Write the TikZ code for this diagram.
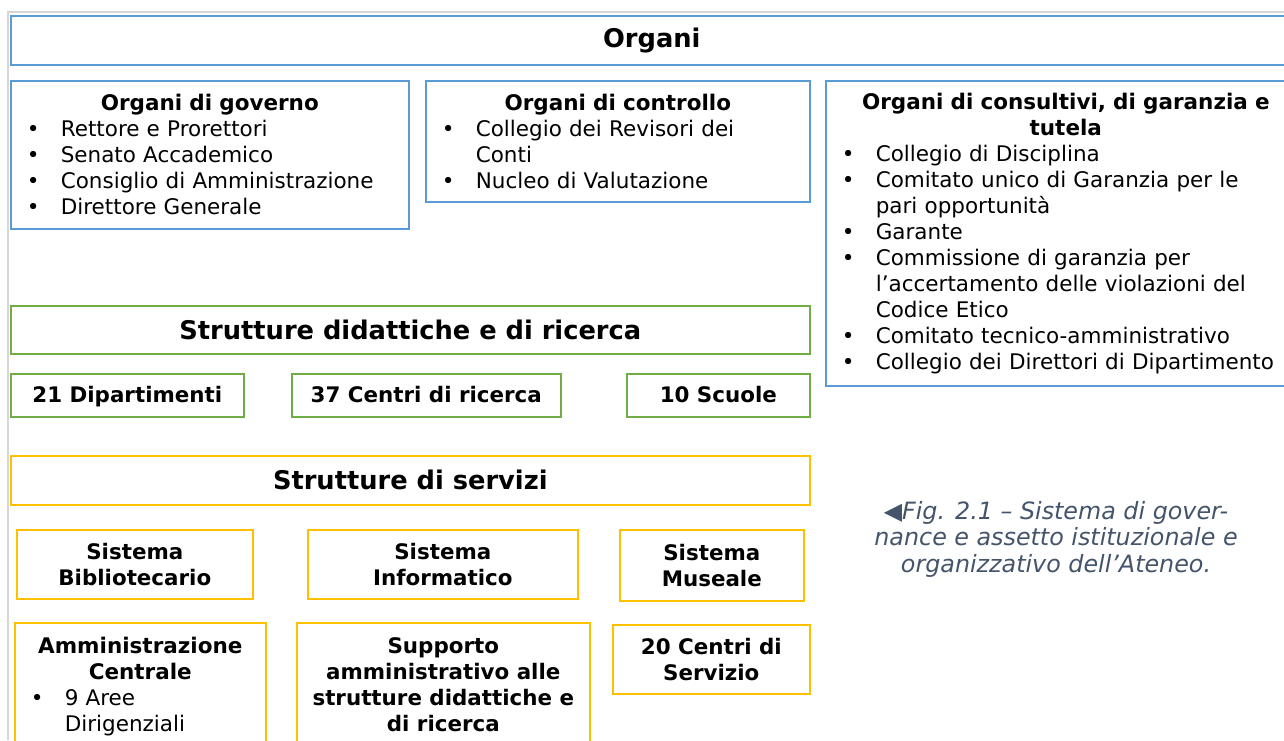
\documentclass[tikz,border=0pt]{standalone}
\usepackage{fontspec}
\setmainfont{DejaVu Sans}
\usepackage{xcolor}
\usepackage{tikz}

\definecolor{orgblue}{HTML}{5B9BD5}
\definecolor{strgreen}{HTML}{70AD47}
\definecolor{srvyellow}{HTML}{FFC000}
\definecolor{capgray}{HTML}{44546A}
\definecolor{pagegray}{HTML}{D6D6D6}

\newcommand{\hd}[1]{{\noindent\centering\bfseries #1\par}}
\newcommand{\itm}[1]{{\noindent\hangindent=45pt\hangafter=1\makebox[45pt][l]{\hspace{11pt}\textbullet}#1\par}}

\begin{document}
\begin{tikzpicture}[x=1pt,y=-1pt,
  box/.style={draw=#1,line width=1.6pt,rectangle,anchor=north west,inner xsep=5pt,inner ysep=0pt},
  listbox/.style={box=#1,align=left,font=\fontsize{21.5}{26}\selectfont},
  boldbox/.style={box=#1,align=center,font=\fontsize{21.4}{26}\selectfont\bfseries},
  headbox/.style={box=#1,align=center,font=\fontsize{25.7}{26}\selectfont\bfseries}]
\useasboundingbox (0,0) rectangle (1284,740);
\draw[pagegray,line width=2pt] (8,740) -- (8,12) -- (1284,12);

% Organi
\node[headbox=orgblue,minimum width=1282,minimum height=49] (organi) at (10,15) {Organi};
\node[listbox=orgblue,minimum width=398,minimum height=148,text width=388] (gov) at (10,80) {%
\hd{Organi di governo}
\itm{Rettore e Prorettori}
\itm{Senato Accademico}
\itm{Consiglio di Amministrazione}
\itm{Direttore Generale}};
\node[listbox=orgblue,minimum width=384,minimum height=121,text width=374] (contr) at (425,80) {%
\hd{Organi di controllo}
\itm{Collegio dei Revisori dei\newline Conti}
\itm{Nucleo di Valutazione}};
\node[listbox=orgblue,minimum width=480,minimum height=305,text width=470] (cons) at (825,80) {%
\hd{Organi di consultivi, di garanzia e\\tutela}
\itm{Collegio di Disciplina}
\itm{Comitato unico di Garanzia per le\newline pari opportunità}
\itm{Garante}
\itm{Commissione di garanzia per\newline l’accertamento delle violazioni del\newline Codice Etico}
\itm{Comitato tecnico-amministrativo}
\itm{Collegio dei Direttori di Dipartimento}};

% Strutture didattiche e di ricerca
\node[headbox=strgreen,minimum width=799,minimum height=48] (did) at (10,305) {Strutture didattiche e di ricerca};
\foreach \nm/\x/\w/\txt in {dip/10/233/21 Dipartimenti,cen/291/269/37 Centri di ricerca,scu/626/183/10 Scuole} {
  \node[boldbox=strgreen,minimum width=\w,minimum height=43,text height=18pt,text depth=3pt] (\nm) at (\x,373) {\txt};
}

% Strutture di servizi
\node[headbox=srvyellow,minimum width=799,minimum height=49] (serv) at (10,455) {Strutture di servizi};
\node[boldbox=srvyellow,minimum width=236,minimum height=69] (bib) at (16,529) {Sistema\\Bibliotecario};
\node[boldbox=srvyellow,minimum width=270,minimum height=69] (inf) at (307,529) {Sistema\\Informatico};
\node[boldbox=srvyellow,minimum width=184,minimum height=71] (mus) at (619,529) {Sistema\\Museale};
\node[listbox=srvyellow,minimum width=251,minimum height=128,text width=241] (amm) at (14,622) {%
\hd{Amministrazione\\Centrale}
\itm{9 Aree\newline Dirigenziali}};
\node[boldbox=srvyellow,minimum width=293,minimum height=124] (sup) at (296,622) {Supporto\\amministrativo alle\\strutture didattiche e\\di ricerca};
\node[boldbox=srvyellow,minimum width=197,minimum height=69] (csv) at (612,624) {20 Centri di\\Servizio};

% didascalia
\node[align=center,text=capgray,font=\fontsize{23.8}{26.5}\selectfont\itshape] (cap) at (1056,539)
  {◀Fig. 2.1 – Sistema di gover-\\nance e assetto istituzionale e\\organizzativo dell’Ateneo.};
\end{tikzpicture}
\end{document}
